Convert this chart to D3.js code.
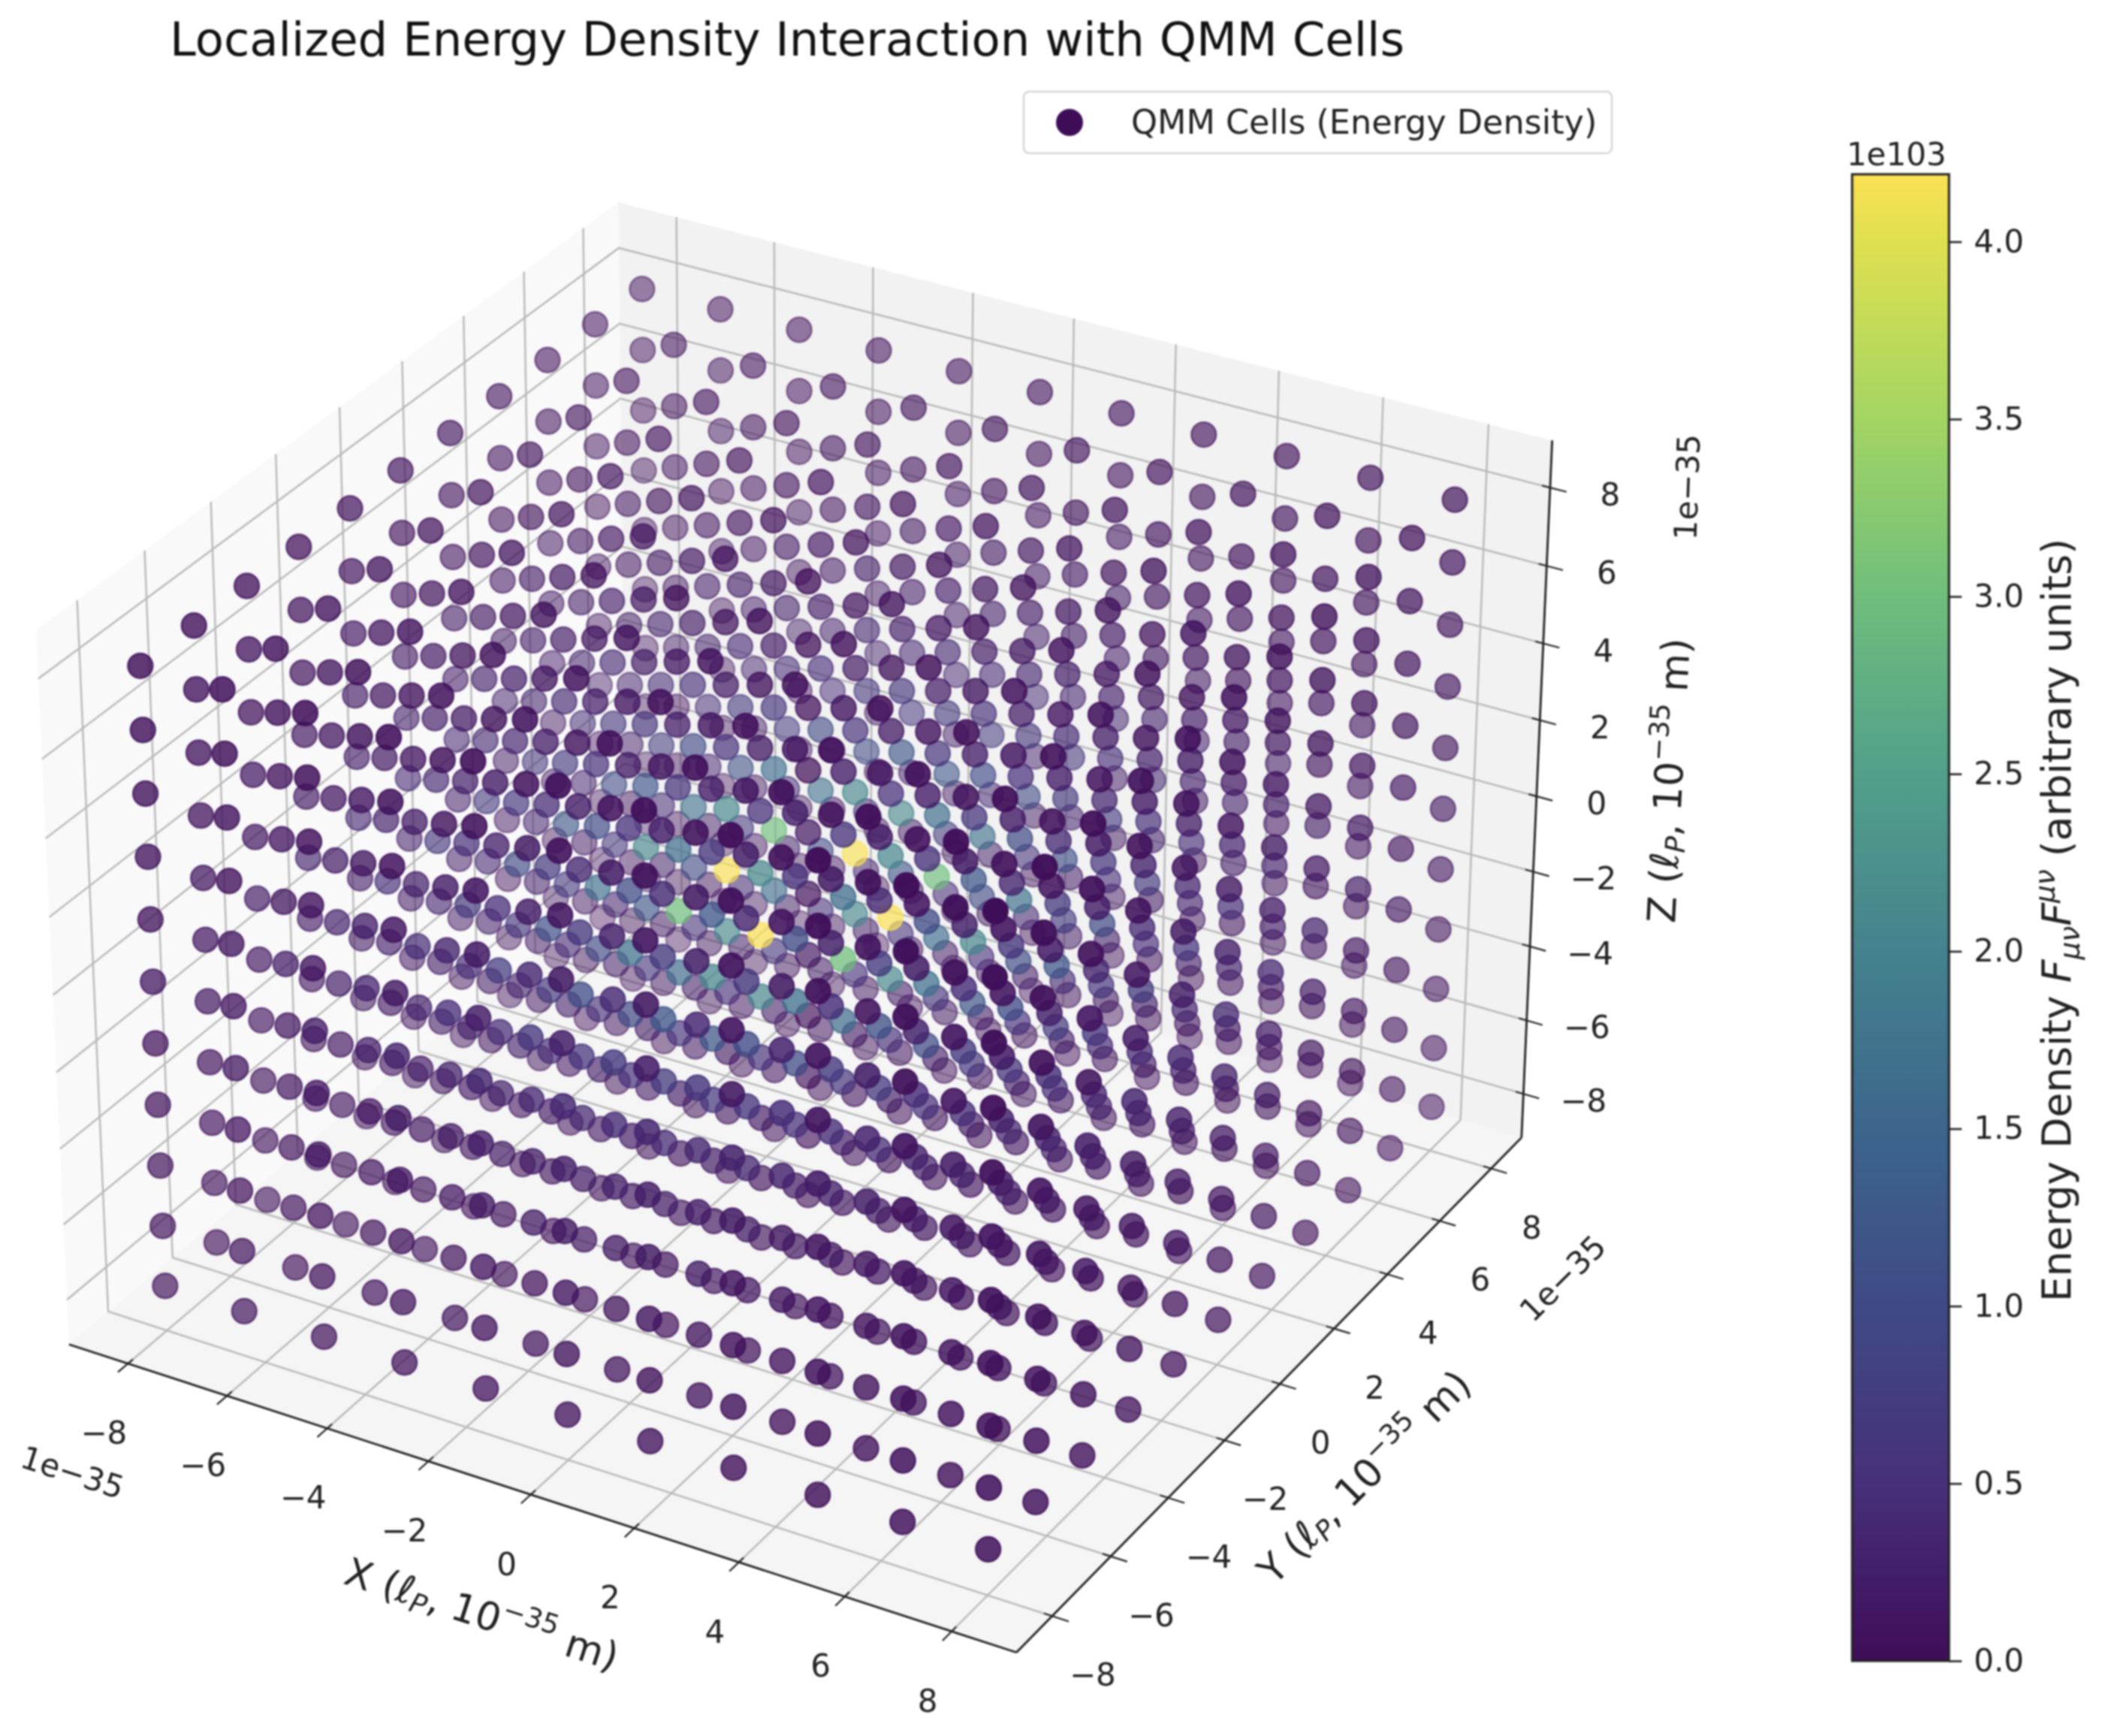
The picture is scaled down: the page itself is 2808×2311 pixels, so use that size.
<!DOCTYPE html>
<html>
<head>
<meta charset="utf-8">
<style>
	html, body { margin: 0; padding: 0; background: #fff; }
	svg { display: block; filter: blur(0.8px); }
	text { font-family: "DejaVu Sans", sans-serif; fill: #222; }
</style>
<script src="https://d3js.org/d3.v7.min.js"></script>
</head>
<body>
<script>
// data
var gridValues = [-8, -6.4, -4.8, -3.2, -1.6, 0, 1.6, 3.2, 4.8, 6.4, 8];
var axisTicks = [-8, -6, -4, -2, 0, 2, 4, 6, 8];
var colorbarTicks = [0, 0.5, 1, 1.5, 2, 2.5, 3, 3.5, 4];
var energyMax = 4.19;
// colours of the bar, as they look in the reference
var barStopValues = [0, 0.5, 1, 1.5, 2, 2.5, 3, 3.5, 4, 4.19];
var barStopColors = ["#3f0d58", "#47307a", "#3f4a85", "#3c668c", "#45828e", "#52a08a", "#6fbe7c", "#a3d563", "#dfe04f", "#fbe254"];
// energy of a cell (units of 1e103), by grid steps from the centre: layer[|z|][|x|][|y|]
var energyZ0 = [
	[0.0, 4.19, 2.1, 1.2, 0.7, 0.4],
	[4.19, 3.0, 1.7, 1.0, 0.6, 0.35],
	[2.1, 1.7, 1.1, 0.7, 0.45, 0.3],
	[1.2, 1.0, 0.7, 0.45, 0.3, 0.2],
	[0.7, 0.6, 0.45, 0.3, 0.2, 0.1],
	[0.4, 0.35, 0.3, 0.2, 0.1, 0.1]];
var energyZ1 = [
	[0.1, 2.1, 1.2, 0.7, 0.4, 0.25],
	[2.1, 1.6, 1.0, 0.6, 0.35, 0.2],
	[1.2, 1.0, 0.7, 0.45, 0.3, 0.15],
	[0.7, 0.6, 0.45, 0.3, 0.2, 0.1],
	[0.4, 0.35, 0.3, 0.2, 0.1, 0.1],
	[0.25, 0.2, 0.15, 0.1, 0.1, 0.05]];
var energyZ2 = [
	[0.0, 0.5, 0.6, 0.4, 0.25, 0.15],
	[0.5, 0.55, 0.5, 0.35, 0.2, 0.15],
	[0.6, 0.5, 0.4, 0.25, 0.15, 0.1],
	[0.4, 0.35, 0.25, 0.2, 0.1, 0.1],
	[0.25, 0.2, 0.15, 0.1, 0.1, 0.05],
	[0.15, 0.15, 0.1, 0.1, 0.05, 0.05]];
var energyZ3 = [
	[0.0, 0.15, 0.2, 0.2, 0.15, 0.1],
	[0.15, 0.2, 0.2, 0.2, 0.15, 0.1],
	[0.2, 0.2, 0.2, 0.15, 0.1, 0.05],
	[0.2, 0.2, 0.15, 0.1, 0.1, 0.05],
	[0.15, 0.15, 0.1, 0.1, 0.05, 0.05],
	[0.1, 0.1, 0.05, 0.05, 0.05, 0.05]];
var energyZ4 = [
	[0.0, 0.05, 0.1, 0.1, 0.05, 0.05],
	[0.05, 0.1, 0.1, 0.1, 0.05, 0.05],
	[0.1, 0.1, 0.1, 0.05, 0.05, 0.05],
	[0.1, 0.1, 0.05, 0.05, 0.05, 0.03],
	[0.05, 0.05, 0.05, 0.05, 0.03, 0.03],
	[0.05, 0.05, 0.05, 0.03, 0.03, 0.03]];
var energyZ5 = [
	[0.0, 0.03, 0.03, 0.03, 0.03, 0.03],
	[0.03, 0.03, 0.03, 0.03, 0.03, 0.03],
	[0.03, 0.03, 0.03, 0.03, 0.03, 0.02],
	[0.03, 0.03, 0.03, 0.03, 0.02, 0.02],
	[0.03, 0.03, 0.03, 0.02, 0.02, 0.02],
	[0.03, 0.03, 0.02, 0.02, 0.02, 0.02]];
var energyLayers = [energyZ0, energyZ1, energyZ2, energyZ3, energyZ4, energyZ5];

var width = 2808, height = 2311;
var limit = 9.2;

var svg = d3.select("body").append("svg")
	.attr("width", width)
	.attr("height", height);

// matplotlib style 3d view: elev 30, azim -60, eye distance 10
var boxXY = 1.1428, boxZ = 0.8571;
var worldX = d3.scaleLinear().domain([-limit, limit]).range([-boxXY / 2, boxXY / 2]);
var worldY = d3.scaleLinear().domain([-limit, limit]).range([-boxXY / 2, boxXY / 2]);
var worldZ = d3.scaleLinear().domain([-limit, limit]).range([-boxZ / 2, boxZ / 2]);
var screenX = d3.scaleLinear().domain([-0.1, 0.1]).range([1076 - 1265, 1076 + 1265]);
var screenY = d3.scaleLinear().domain([-0.1, 0.1]).range([1190 + 1265, 1190 - 1265]);

function project(x, y, z) {
	var dx = worldX(x), dy = worldY(y), dz = worldZ(z);
	var xv = 0.866 * dx + 0.5 * dy;
	var yv = -0.25 * dx + 0.433 * dy + 0.866 * dz;
	var zv = 0.433 * dx - 0.75 * dy + 0.5 * dz;
	var w = 10 - zv;
	return { x: screenX(xv / w), y: screenY(yv / w), depth: w };
}

var line3d = d3.line().x(function(p){return p.x}).y(function(p){return p.y});
function path3d(pts) {
	return line3d(pts.map(function(p){return project(p[0], p[1], p[2])})) ;
}

// panes
var L = limit;
var panes = [
	{fill: "#f9f9f9", pts: [[-L,-L,-L],[-L,L,-L],[-L,L,L],[-L,-L,L]]},
	{fill: "#f2f2f2", pts: [[-L,L,-L],[L,L,-L],[L,L,L],[-L,L,L]]},
	{fill: "#f5f5f5", pts: [[-L,-L,-L],[L,-L,-L],[L,L,-L],[-L,L,-L]]}
];
svg.append("g").selectAll("path").data(panes).enter().append("path")
	.attr("d", function(d){return path3d(d.pts) + "Z"})
	.attr("fill", function(d){return d.fill});

// grid
var gridLines = [];
axisTicks.forEach(function(t){
	gridLines.push([[t,-L,-L],[t,L,-L],[t,L,L]]);
	gridLines.push([[L,t,-L],[-L,t,-L],[-L,t,L]]);
	gridLines.push([[-L,-L,t],[-L,L,t],[L,L,t]]);
});
svg.append("g").selectAll("path").data(gridLines).enter().append("path")
	.attr("d", path3d)
	.attr("fill", "none")
	.attr("stroke", "#b8b8b8")
	.attr("stroke-width", 2.4);

// axis lines and ticks
var axisG = svg.append("g");
var axisLines = [
	[[-L,-L,-L],[L,-L,-L]],
	[[L,-L,-L],[L,L,-L]],
	[[L,L,-L],[L,L,L]]
];
axisG.selectAll("path.edge").data(axisLines).enter().append("path")
	.attr("class", "edge")
	.attr("d", path3d)
	.attr("fill", "none")
	.attr("stroke", "#222")
	.attr("stroke-width", 2.8);

var tickOut = 0.0167 * 2 * L, tickIn = 0.0083 * 2 * L;
var tickLines = [];
axisTicks.forEach(function(t){
	tickLines.push([[t,-L-tickOut,-L],[t,-L+tickIn,-L]]);
	tickLines.push([[L+tickOut,t,-L],[L-tickIn,t,-L]]);
	tickLines.push([[L+tickOut,L,t],[L-tickIn,L,t]]);
});
axisG.selectAll("path.tick").data(tickLines).enter().append("path")
	.attr("class", "tick")
	.attr("d", path3d)
	.attr("fill", "none")
	.attr("stroke", "#222")
	.attr("stroke-width", 2.2);

// tick labels
function fmt(t){ return t < 0 ? "\u2212" + (-t) : String(t); }
var labelG = svg.append("g").attr("text-anchor", "middle");
function tickLabels(cls, toPoint, ox, oy) {
	labelG.selectAll("text." + cls).data(axisTicks).enter().append("text")
		.attr("class", cls)
		.attr("x", function(t){return toPoint(t).x + ox})
		.attr("y", function(t){return toPoint(t).y + oy + 15})
		.attr("font-size", 42)
		.text(fmt);
}
tickLabels("xl", function(t){return project(t,-L,-L)}, -32, 92);
tickLabels("yl", function(t){return project(L,t,-L)}, 54, 78);
tickLabels("zl", function(t){return project(L,L,t)}, 80, 9);

// text with sub and superscripts; shift is in ems upward
function richText(cx, cy, rot, size, parts) {
	var txt = svg.append("text")
		.attr("text-anchor", "middle")
		.attr("transform", "translate(" + cx + "," + cy + ") rotate(" + rot + ")")
		.attr("font-size", size);
	var prev = 0;
	parts.forEach(function(p){
		var shift = (p.shift || 0) * size;
		txt.append("tspan")
			.attr("dy", prev - shift)
			.attr("font-style", p.i ? "italic" : null)
			.attr("font-size", p.small ? size * 0.7 : size)
			.text(p.t);
		prev = shift;
	});
	return txt;
}
var lp = [{t: "\u2113", i: 1}, {t: "P", i: 1, small: 1, shift: -0.15}];
var tenExp = [{t: ",  10"}, {t: "\u221235", small: 1, shift: 0.42}, {t: " m)"}];
richText(636, 2166, 18, 52, [{t: "X ("}].concat(lp, tenExp));
richText(1829, 1979, -45, 52, [{t: "Y ("}].concat(lp, tenExp));
richText(2240, 1040, -87, 52, [{t: "Z ("}].concat(lp, tenExp));

function plainRot(cx, cy, rot, t) {
	svg.append("text")
		.attr("text-anchor", "middle")
		.attr("transform", "translate(" + cx + "," + cy + ") rotate(" + rot + ")")
		.attr("font-size", 42)
		.text(t);
}
plainRot(92, 1974, 18, "1e\u221235");
plainRot(2091, 1712, -45, "1e\u221235");
plainRot(2261, 649, -88, "1e\u221235");

// cells
var color = d3.scaleLinear().domain(barStopValues).range(barStopColors);
var cells = [];
gridValues.forEach(function(x, i){
	gridValues.forEach(function(y, j){
		gridValues.forEach(function(z, k){
			var e = energyLayers[Math.abs(k - 5)][Math.abs(i - 5)][Math.abs(j - 5)];
			var p = project(x, y, z);
			cells.push({x: p.x, y: p.y, depth: p.depth, energy: e});
		});
	});
});
cells.sort(function(a, b){return b.depth - a.depth});
var depthExtent = d3.extent(cells, function(c){return c.depth});
var alpha = d3.scaleLinear().domain(depthExtent).range([1, 0.36]);

svg.append("g").selectAll("circle").data(cells).enter().append("circle")
	.attr("cx", function(c){return c.x})
	.attr("cy", function(c){return c.y})
	.attr("r", 16.5)
	.attr("fill", function(c){return color(c.energy)})
	.attr("stroke", function(c){return color(c.energy)})
	.attr("stroke-width", 2.4)
	.attr("fill-opacity", function(c){return alpha(c.depth)})
	.attr("stroke-opacity", function(c){return alpha(c.depth)});

// title
svg.append("text")
	.attr("x", 226)
	.attr("y", 74)
	.attr("font-size", 62.5)
	.style("fill", "#111")
	.text("Localized Energy Density Interaction with QMM Cells");

// legend
var legend = svg.append("g");
legend.append("rect")
	.attr("x", 1363).attr("y", 122)
	.attr("width", 783).attr("height", 82)
	.attr("rx", 7)
	.attr("fill", "#fff")
	.attr("stroke", "#d5d5d5")
	.attr("stroke-width", 2.5);
legend.append("circle")
	.attr("cx", 1424).attr("cy", 163).attr("r", 18)
	.attr("fill", "#3f0d58");
legend.append("text")
	.attr("x", 1506).attr("y", 178)
	.attr("font-size", 44.5)
	.text("QMM Cells (Energy Density)");

// colorbar
var barX = 2466, barW = 129, barTop = 232, barBottom = 2211;
var barScale = d3.scaleLinear().domain([0, energyMax]).range([barBottom, barTop]);
var defs = svg.append("defs");
var grad = defs.append("linearGradient").attr("id", "viridisBar")
	.attr("x1", 0).attr("y1", 1).attr("x2", 0).attr("y2", 0);
barStopValues.forEach(function(v, i){
	grad.append("stop")
		.attr("offset", v / energyMax)
		.attr("stop-color", barStopColors[i]);
});
var bar = svg.append("g");
bar.append("rect")
	.attr("x", barX).attr("y", barTop)
	.attr("width", barW).attr("height", barBottom - barTop)
	.attr("fill", "url(#viridisBar)")
	.attr("stroke", "#222")
	.attr("stroke-width", 3);
var barAxis = d3.axisRight(barScale)
	.tickValues(colorbarTicks)
	.tickSize(17)
	.tickPadding(16)
	.tickFormat(d3.format(".1f"));
var barAxisG = bar.append("g")
	.attr("transform", "translate(" + (barX + barW) + ",0)")
	.call(barAxis);
barAxisG.select(".domain").remove();
barAxisG.selectAll("line").attr("stroke", "#222").attr("stroke-width", 2.6);
barAxisG.selectAll("text").attr("font-size", 42).style("font-family", '"DejaVu Sans", sans-serif').style("fill", "#222");

svg.append("text")
	.attr("x", 2525).attr("y", 220)
	.attr("text-anchor", "middle")
	.attr("font-size", 42)
	.text("1e103");

richText(2757, 1225, -90, 53.5, [
	{t: "Energy Density "},
	{t: "F", i: 1},
	{t: "\u03bc\u03bd", i: 1, small: 1, shift: -0.2},
	{t: "F", i: 1},
	{t: "\u03bc\u03bd", i: 1, small: 1, shift: 0.42},
	{t: " (arbitrary units)"}
]);
</script>
</body>
</html>
